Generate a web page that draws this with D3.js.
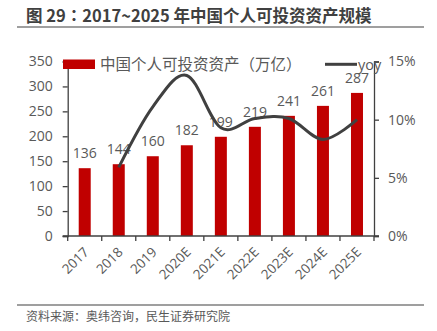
<!DOCTYPE html>
<html><head><meta charset="utf-8">
<script src="https://cdn.jsdelivr.net/npm/d3@7"></script>
<style>
html,body{margin:0;padding:0;background:#fff;}
svg{display:block;}
</style></head>
<body><svg id="c" width="437" height="331"></svg>
<script>
const categories = ["2017","2018","2019","2020E","2021E","2022E","2023E","2024E","2025E"];
const assets = [136,144,160,182,199,219,241,261,287];
const yoyCats = ["2018","2019","2020E","2021E","2022E","2023E","2024E","2025E"];
const yoy = [5.9,11.1,13.8,9.3,10.1,10.1,8.3,10.0];
const leftTicks = [0,50,100,150,200,250,300,350];
const rightTicks = [0,5,10,15];
const titleParts = ["图 29", "：", "2017~2025 年中国个人可投资资产规模"];
const sourceText = "资料来源：奥纬咨询，民生证券研究院";
const legendBar = "中国个人可投资资产（万亿）";
const legendLine = "yoy";

const svg = d3.select("#c");
const LAT = "'Open Sans','Noto Sans CJK SC',sans-serif";
const CJK = "'Noto Sans CJK SC',sans-serif";
const axisCol = "#404040", txtCol = "#595959";
const x0 = 67.7, x1 = 374, yTop = 61.5, yBot = 236;
const x = d3.scaleBand().domain(categories).range([x0, x1]).padding(0);
const yL = d3.scaleLinear().domain([0,350]).range([yBot, yTop]);
const yR = d3.scaleLinear().domain([0,15]).range([yBot, yTop]);
const bw = 12;

// title
const t = svg.append("text").attr("x",26).attr("y",22).style("font-size","16.5px").style("font-weight","bold")
  .style("font-family",CJK).attr("fill","#404040");
t.append("tspan").text(titleParts[0]);
t.append("tspan").style("font-family","'Noto Sans CJK JP',sans-serif").text(titleParts[1]);
t.append("tspan").text(titleParts[2]);
svg.append("line").attr("x1",17).attr("x2",424).attr("y1",27).attr("y2",27).attr("stroke","#7f7f7f").attr("stroke-width",1.5);

// bars
svg.append("g").selectAll("rect").data(assets).join("rect")
  .attr("x",(d,i)=>x(categories[i])+x.bandwidth()/2-bw/2)
  .attr("y",d=>yL(d)).attr("width",bw).attr("height",d=>yBot-yL(d)).attr("fill","#c00000");
svg.append("g").selectAll("text").data(assets).join("text")
  .attr("x",(d,i)=>x(categories[i])+x.bandwidth()/2).attr("y",d=>yL(d)-10)
  .attr("text-anchor","middle").style("font-size","14px").style("font-family",LAT).attr("fill",txtCol).text(d=>d);

// line
const line = d3.line().x((d,i)=>x(yoyCats[i])+x.bandwidth()/2).y(d=>yR(d)).curve(d3.curveCatmullRom.alpha(0));
svg.append("path").datum(yoy).attr("d",line).attr("fill","none").attr("stroke","#404040").attr("stroke-width",3);

// axes
const gL = svg.append("g").attr("transform",`translate(${x0},0)`)
  .call(d3.axisLeft(yL).tickValues(leftTicks).tickSize(5).tickPadding(10));
const gR = svg.append("g").attr("transform",`translate(${x1},0)`)
  .call(d3.axisRight(yR).tickValues(rightTicks).tickSize(5).tickPadding(9).tickFormat(d=>d+"%"));
const gB = svg.append("g").attr("transform",`translate(0,${yBot})`)
  .call(d3.axisBottom(x).tickSize(0).tickFormat(""));
[gL,gR,gB].forEach(g=>{
  g.select(".domain").attr("stroke",axisCol).attr("stroke-width",1.3);
  g.selectAll(".tick line").attr("stroke",axisCol).attr("stroke-width",1.3);
  g.selectAll(".tick text").attr("fill",txtCol).style("font-size","14px").style("font-family",LAT);
});
gB.select(".domain").attr("d",`M${x0-5},0H${x1+5}`);
// category boundary ticks
const bounds = categories.map(c=>x(c)).concat([x1]);
svg.append("g").selectAll("line").data(bounds).join("line")
  .attr("x1",d=>d).attr("x2",d=>d).attr("y1",yBot).attr("y2",yBot+5).attr("stroke",axisCol).attr("stroke-width",1.3);
// category labels
svg.append("g").selectAll("text").data(categories).join("text")
  .attr("transform",d=>`translate(${x(d)+x.bandwidth()/2+5},${yBot+17}) rotate(-45)`)
  .attr("text-anchor","end").style("font-size","13.5px").style("font-family",LAT).attr("fill",txtCol).text(d=>d);

// legend
svg.append("rect").attr("x",63).attr("y",59.5).attr("width",32).attr("height",9.5).attr("fill","#c00000");
svg.append("text").attr("x",100).attr("y",70).style("font-size","15.5px").style("font-family",CJK).attr("fill",txtCol).text(legendBar);
svg.append("line").attr("x1",325).attr("x2",357).attr("y1",64.3).attr("y2",64.3).attr("stroke","#404040").attr("stroke-width",3);
svg.append("text").attr("x",358).attr("y",70).style("font-size","14.5px").style("font-family",LAT).attr("fill",txtCol).text(legendLine);

// source
svg.append("line").attr("x1",17).attr("x2",424).attr("y1",305).attr("y2",305).attr("stroke","#7f7f7f").attr("stroke-width",1.3);
svg.append("text").attr("x",26).attr("y",321).style("font-size","12px").style("font-family",CJK).attr("fill",txtCol).text(sourceText);
</script></body></html>
